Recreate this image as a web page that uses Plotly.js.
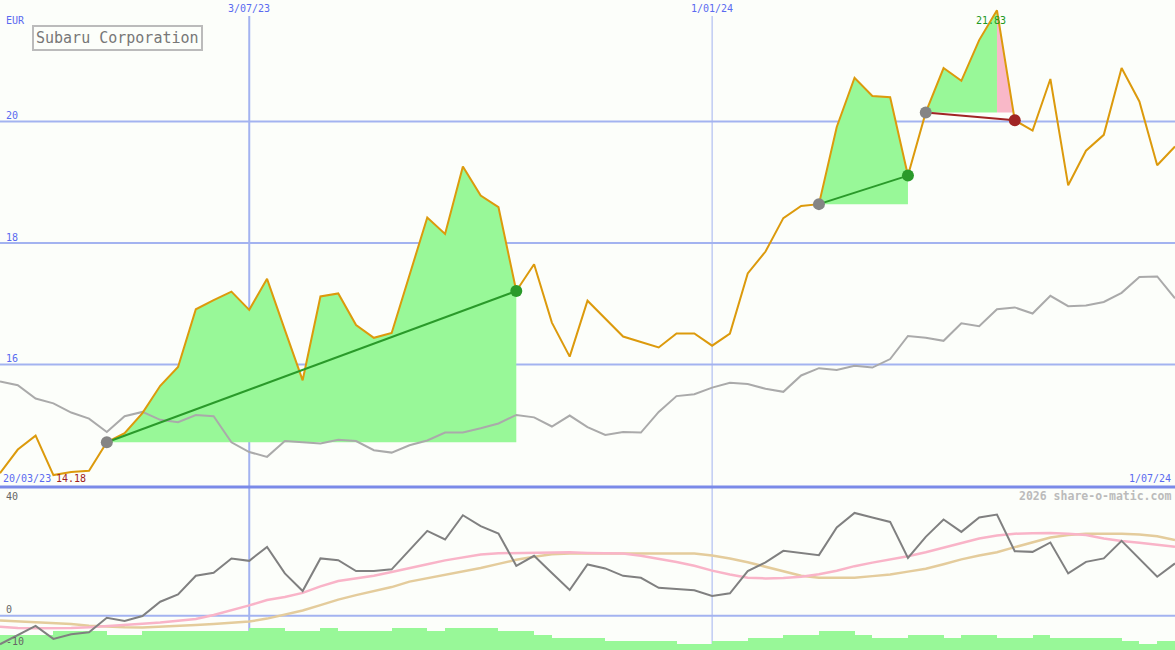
<!DOCTYPE html>
<html><head><meta charset="utf-8">
<script src="https://cdn.plot.ly/plotly-3.0.1.min.js"></script>
<style>html,body{margin:0;padding:0;background:#fcfefa;}#chart{width:1175px;height:650px;}</style>
</head><body><div id="chart"></div>
<script>
// ---- data (weekly) ----
const close = [14.21,14.60,14.83,14.18,14.23,14.25,14.72,14.87,15.20,15.65,
  15.96,16.91,17.06,17.20,16.90,17.41,16.57,15.74,17.12,17.17,
  16.65,16.44,16.52,17.45,18.42,18.15,19.26,18.78,18.59,17.21,
  17.65,16.69,16.13,17.05,16.76,16.46,16.37,16.28,16.51,16.51,
  16.31,16.51,17.50,17.86,18.41,18.61,18.64,19.91,20.72,20.42,
  20.40,19.11,20.15,20.88,20.67,21.34,21.83,20.02,19.85,20.70,
  18.95,19.52,19.78,20.88,20.33,19.28,19.59];
const bench = [15.72,15.66,15.44,15.36,15.21,15.11,14.89,15.15,15.22,15.09,
  15.05,15.17,15.15,14.72,14.56,14.48,14.74,14.72,14.70,14.76,
  14.74,14.59,14.55,14.67,14.75,14.88,14.88,14.95,15.03,15.17,
  15.13,14.98,15.16,14.97,14.84,14.89,14.88,15.22,15.48,15.51,
  15.62,15.70,15.68,15.60,15.55,15.82,15.94,15.91,15.98,15.95,
  16.09,16.47,16.44,16.39,16.68,16.63,16.91,16.94,16.84,17.13,
  16.96,16.97,17.03,17.18,17.44,17.45,17.09];
const momentum = [-8.87,-6.0,-3.19,-7.22,-5.8,-5.15,-0.62,-1.64,-0.09,4.34,
  6.64,12.40,13.33,17.80,17.05,21.40,13.15,7.66,17.80,17.27,
  13.86,13.86,14.4,20.37,26.36,23.69,31.22,27.81,25.55,15.50,
  18.60,13.27,7.97,15.94,14.70,12.40,11.78,8.68,8.28,7.88,
  6.11,6.95,13.86,16.56,20.16,19.5,18.82,27.41,31.94,30.54,
  29.15,17.98,24.50,29.89,26.05,30.51,31.44,20.06,19.84,22.76,
  13.15,16.74,17.80,23.26,17.58,12.09,16.25];
const avgFast = [-3.4,-3.8,-3.9,-3.9,-3.8,-3.6,-3.3,-2.9,-2.5,-2.1,
  -1.6,-1.0,0.2,1.6,3.2,4.9,5.8,7.1,9.1,10.8,
  11.6,12.4,13.6,14.9,16.0,17.2,18.2,19.0,19.4,19.5,
  19.6,19.8,19.7,19.5,19.4,19.3,18.6,17.7,16.7,15.5,
  14.0,12.8,11.8,11.6,11.7,12.1,12.9,14.0,15.4,16.5,
  17.4,18.5,19.7,21.1,22.5,24.0,24.9,25.5,25.6,25.7,
  25.5,25.1,24.0,23.2,22.7,22.1,21.4];
const avgSlow = [-1.5,-1.8,-2.0,-2.2,-2.6,-3.1,-3.4,-3.6,-3.7,-3.5,
  -3.3,-2.9,-2.6,-2.2,-1.8,-0.9,0.4,1.6,3.3,5.0,
  6.4,7.7,8.9,10.6,11.6,12.7,13.7,14.8,16.1,17.4,
  18.3,19.1,19.3,19.3,19.3,19.5,19.5,19.3,19.3,19.3,
  18.7,17.8,16.6,15.2,13.9,12.4,11.8,11.7,11.8,12.3,
  12.8,13.7,14.6,16.0,17.5,18.7,19.7,21.3,22.8,24.3,
  25.1,25.5,25.5,25.5,25.2,24.7,23.5];
const volume = [15,15,15,19.3,19.3,19.3,15,15,19.3,19.3,
  19.3,19.3,19.3,19.3,21.7,21.7,19.3,19.3,21.7,19.3,
  19.3,19.3,21.7,21.7,19.3,21.7,21.7,21.7,19.3,19.3,
  15,11.7,11.7,11.7,9.3,9.3,9.3,9.3,6,6,
  9.3,9.3,11.7,11.7,15,15,19.3,19.3,15,11.7,
  11.7,15,15,11.7,15,15,11.7,11.7,15,11.7,
  11.7,11.7,11.7,9.3,6,9.3];
const tradeBuy = [6, 46, 52];
const tradeSell = [29, 51, 57];
const priceTicks = [16, 18, 20];
const lowerTicks = [40, 0, -10];
const dateLabels = ['3/07/23', '1/01/24'];
const dateLabelWeeks = [14, 40];
const startLabel = '20/03/23';
const endLabel = '1/07/24';
const title = 'Subaru Corporation';
const currency = 'EUR';
const lowLabel = '14.18';
const highLabel = '21.83';
const credit = '2026 share-o-matic.com';

// ---- build ----
const week = close.map((_, i) => i);
const FONT = 'DejaVu Sans Mono';
const BG = '#fcfefa';
const GRID = '#a3b3f0';
const BLUE_TXT = '#5a6af0';
const traces = [];

// volume bars (lower panel)
traces.push({type:'bar', x: volume.map((_, k) => k + 0.5), y: volume, width: 1,
  xaxis:'x', yaxis:'y2', marker:{color:'#98f898', line:{width:0}}, hoverinfo:'skip'});

// trade fills
function tradeFills(b, s) {
  const p = close[b];
  const groups = [];
  let cur = null;
  for (let i = b; i < s; i++) {
    const col = close[i + 1] >= p ? '#98f898' : '#f9b8c8';
    if (!cur || cur.col !== col) { cur = {col, xs:[i], ys:[close[i]]}; groups.push(cur); }
    let xe = i + 1, ye = close[i + 1];
    if (ye < p) { xe = i + (close[i] - p) / (close[i] - close[i + 1]); ye = p; }
    cur.xs.push(xe); cur.ys.push(ye);
  }
  groups.forEach(g => {
    g.xs.push(g.xs[g.xs.length - 1], g.xs[0]);
    g.ys.push(p, p);
    traces.push({type:'scatter', mode:'lines', x:g.xs, y:g.ys, fill:'toself', fillcolor:g.col,
      line:{width:0, color:g.col}, xaxis:'x', yaxis:'y', hoverinfo:'skip'});
  });
}
tradeBuy.forEach((b, t) => tradeFills(b, tradeSell[t]));

// benchmark + price
traces.push({type:'scatter', mode:'lines', x:week, y:bench, line:{color:'#aaaaaa', width:2}, xaxis:'x', yaxis:'y'});
traces.push({type:'scatter', mode:'lines', x:week, y:close, line:{color:'#dc9a0c', width:2}, xaxis:'x', yaxis:'y'});

// trade lines and markers
tradeBuy.forEach((b, t) => {
  const s = tradeSell[t];
  const win = close[s] >= close[b];
  const col = win ? '#2a9a2a' : '#a02424';
  traces.push({type:'scatter', mode:'lines', x:[b, s], y:[close[b], close[s]],
    line:{color:col, width:2}, xaxis:'x', yaxis:'y'});
  traces.push({type:'scatter', mode:'markers', x:[b], y:[close[b]],
    marker:{color:'#858585', size:12}, xaxis:'x', yaxis:'y'});
  traces.push({type:'scatter', mode:'markers', x:[s], y:[close[s]],
    marker:{color:win ? '#2a9a2a' : '#a02424', size:12}, xaxis:'x', yaxis:'y'});
});

// lower panel lines
traces.push({type:'scatter', mode:'lines', x:week, y:avgSlow, line:{color:'#e4cc9c', width:2.5}, xaxis:'x', yaxis:'y3'});
traces.push({type:'scatter', mode:'lines', x:week, y:avgFast, line:{color:'#f9b4c8', width:2.5}, xaxis:'x', yaxis:'y3'});
traces.push({type:'scatter', mode:'lines', x:week, y:momentum, line:{color:'#808080', width:2}, xaxis:'x', yaxis:'y3'});

const SPLIT = 163 / 650;
const shapes = [];
priceTicks.forEach(v => shapes.push({type:'line', xref:'paper', x0:0, x1:1, yref:'y', y0:v, y1:v,
  line:{color:GRID, width:2}, layer:'below'}));
shapes.push({type:'line', xref:'paper', x0:0, x1:1, yref:'y3', y0:0, y1:0, line:{color:GRID, width:2}, layer:'below'});
dateLabelWeeks.forEach((w, i) => shapes.push({type:'line', xref:'x', x0:w, x1:w, yref:'paper', y0:0, y1:1 - 16/650,
  line:{color:GRID, width: i === 0 ? 2 : 1}, layer:'below'}));
shapes.push({type:'line', xref:'paper', x0:0, x1:1, yref:'paper', y0:SPLIT, y1:SPLIT,
  line:{color:'#7a8ae8', width:3}, layer:'above'});

const ann = [];
const txt = (o) => Object.assign({showarrow:false, font:{family:FONT, size:10, color:BLUE_TXT}}, o);
ann.push(txt({text:currency, xref:'paper', x:4/1175, xanchor:'left', yref:'paper', y:1 - 20/650, yanchor:'middle'}));
priceTicks.forEach(v => ann.push(txt({text:String(v), xref:'paper', x:4/1175, xanchor:'left', yref:'y', y:v, yanchor:'middle', yshift:6})));
dateLabels.forEach((l, i) => ann.push(txt({text:l, xref:'x', x:dateLabelWeeks[i], xanchor:'center', yref:'paper', y:1 - 9/650, yanchor:'middle'})));
ann.push(txt({text:startLabel, xref:'paper', x:1/1175, xanchor:'left', yref:'paper', y:1 - 478/650, yanchor:'middle'}));
ann.push(txt({text:lowLabel, xref:'paper', x:54/1175, xanchor:'left', yref:'paper', y:1 - 478/650, yanchor:'middle', font:{family:FONT, size:10, color:'#a02020'}}));
ann.push(txt({text:endLabel, xref:'paper', x:1173/1175, xanchor:'right', yref:'paper', y:1 - 478/650, yanchor:'middle'}));
ann.push(txt({text:highLabel, xref:'x', x:close.indexOf(Math.max(...close)), xshift:-6, xanchor:'center', yref:'paper', y:1 - 21/650, yanchor:'middle', font:{family:FONT, size:10, color:'#229922'}}));
ann.push(txt({text:credit, xref:'paper', x:1173/1175, xanchor:'right', yref:'paper', y:1 - 496/650, yanchor:'middle', font:{family:FONT, size:11.5, color:'#bbbbbb', weight:'bold'}}));
const lshift = {40:-9, 0:6, '-10':6};
lowerTicks.forEach(v => ann.push(txt({text:String(v), xref:'paper', x:4/1175, xanchor:'left', yref:'y3', y:v, yanchor:'middle', yshift:lshift[v], font:{family:FONT, size:10, color:'#666666'}})));
ann.push({text:title, showarrow:false, xref:'paper', x:32/1175, xanchor:'left', yref:'paper', y:1 - 25/650, yanchor:'top',
  font:{family:FONT, size:15, color:'#777777'}, bordercolor:'#bbbbbb', borderwidth:2, borderpad:2, bgcolor:BG});

const layout = {
  width:1175, height:650, margin:{l:0, r:0, t:0, b:0},
  paper_bgcolor:BG, plot_bgcolor:BG, showlegend:false, bargap:0,
  xaxis:{range:[0, 66], visible:false, fixedrange:true},
  yaxis:{domain:[SPLIT, 1], range:[13.984, 22.0], visible:false},
  yaxis2:{domain:[0, SPLIT], range:[0, 163], visible:false},
  yaxis3:{overlaying:'y2', range:[-10.66, 40], visible:false},
  shapes, annotations:ann
};
Plotly.newPlot('chart', traces, layout, {staticPlot:true, displayModeBar:false});
</script></body></html>
